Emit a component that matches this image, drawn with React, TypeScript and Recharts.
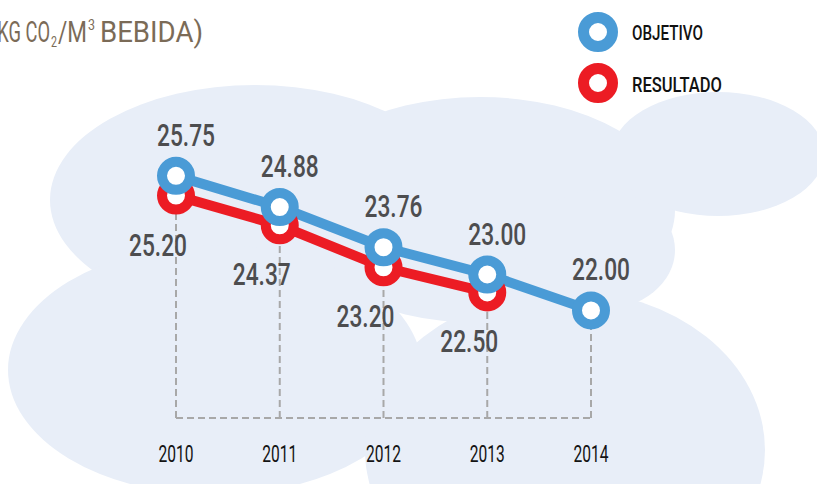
import React from 'react';
import { LineChart, Line, XAxis, YAxis, ReferenceLine, LabelList } from 'recharts';

// ---- data ----
const years = ['2010', '2011', '2012', '2013', '2014'];
const objetivo = [25.75, 24.88, 23.76, 23.0, 22.0];
const resultado: (number | null)[] = [25.2, 24.37, 23.2, 22.5, null];
const yDomain: [number, number] = [19, 27];

const seriesNames = { objetivo: 'OBJETIVO', resultado: 'RESULTADO' };
const colors = { objetivo: '#4A9BD6', resultado: '#EC1C24' };

const data = years.map((year, i) => ({
  year,
  objetivo: objetivo[i],
  resultado: resultado[i],
}));

const W = 817;
const H = 484;
const CLOUD = '#E8EEF8';
const FONT = 'Roboto, "Noto Sans", sans-serif';

const BlueLabel = (props: any) => {
  const { x, y, value } = props;
  if (value == null) return null;
  return (
    <text x={x + 10} y={y - 30} textAnchor="middle" fontFamily={FONT} fontWeight={500}
      fontSize={32} fill="#4D4D4F" textLength={58} lengthAdjust="spacingAndGlyphs">
      {Number(value).toFixed(2)}
    </text>
  );
};

const RedLabel = (props: any) => {
  const { x, y, value } = props;
  if (value == null) return null;
  return (
    <text x={x - 18} y={y + 60} textAnchor="middle" fontFamily={FONT} fontWeight={500}
      fontSize={32} fill="#4D4D4F" textLength={58} lengthAdjust="spacingAndGlyphs">
      {Number(value).toFixed(2)}
    </text>
  );
};

const YearTick = (props: any) => {
  const { x, y, payload } = props;
  return (
    <text x={x} y={y + 36} textAnchor="middle" fontFamily={FONT} fontSize={23}
      fill="#141414" textLength={35} lengthAdjust="spacingAndGlyphs">
      {payload.value}
    </text>
  );
};

const Background = () => (
  <svg width={W} height={H} style={{ position: 'absolute', left: 0, top: 0 }}>
    <g fill={CLOUD}>
      <ellipse cx={255} cy={200} rx={205} ry={115} />
      <ellipse cx={480} cy={210} rx={195} ry={113} />
      <ellipse cx={600} cy={250} rx={75} ry={60} />
      <ellipse cx={718} cy={154} rx={106} ry={62} />
      <ellipse cx={215} cy={370} rx={207} ry={125} />
      <ellipse cx={565} cy={450} rx={200} ry={160} />
    </g>
    {/* title */}
    <g fontFamily={FONT} fill="#7B6B57">
      <text x={-9} y={42} fontSize={30} textLength={59} lengthAdjust="spacingAndGlyphs">(KG CO</text>
      <text x={51} y={47} fontSize={15} textLength={6} lengthAdjust="spacingAndGlyphs">2</text>
      <text x={58} y={42} fontSize={30} textLength={29} lengthAdjust="spacingAndGlyphs">/M</text>
      <text x={88} y={30} fontSize={15} textLength={7} lengthAdjust="spacingAndGlyphs">3</text>
      <text x={100} y={42} fontSize={30} textLength={103} lengthAdjust="spacingAndGlyphs">BEBIDA)</text>
    </g>
    {/* legend */}
    {(['objetivo', 'resultado'] as const).map((k, i) => (
      <g key={k}>
        <circle cx={598} cy={32 + i * 51} r={14.5} fill="#fff" stroke={colors[k]} strokeWidth={11} />
        <text x={632} y={40 + i * 52} fontFamily={FONT} fontWeight={500} fontSize={21} fill="#111"
          textLength={k === 'objetivo' ? 71 : 90} lengthAdjust="spacingAndGlyphs">
          {seriesNames[k]}
        </text>
      </g>
    ))}
  </svg>
);

export default function App() {
  return (
    <div style={{ position: 'absolute', left: 0, top: 0, width: W, height: H, overflow: 'hidden', background: '#fff' }}>
      <Background />
      <div style={{ position: 'absolute', left: 0, top: 0 }}>
        <LineChart width={W} height={H} data={data}
          margin={{ top: 131, right: W - 591, bottom: 26, left: 176 }}>
          <XAxis dataKey="year" height={40} tickLine={false} tick={<YearTick />}
            axisLine={{ stroke: '#A8A8A8', strokeWidth: 2, strokeDasharray: '7 4' }} />
          <YAxis type="number" domain={yDomain} hide />
          {years.map((yr, i) => {
            const vals = [objetivo[i], resultado[i]].filter((v) => v != null) as number[];
            return (
              <ReferenceLine key={yr} segment={[{ x: yr, y: yDomain[0] }, { x: yr, y: Math.min(...vals) }]}
                stroke="#A8A8A8" strokeWidth={2} strokeDasharray="7 4" />
            );
          })}
          <Line type="linear" dataKey="resultado" name={seriesNames.resultado} stroke={colors.resultado}
            strokeWidth={10} isAnimationActive={false} activeDot={false}
            dot={{ r: 14, stroke: colors.resultado, strokeWidth: 10, fill: '#fff' }}>
            <LabelList dataKey="resultado" content={<RedLabel />} />
          </Line>
          <Line type="linear" dataKey="objetivo" name={seriesNames.objetivo} stroke={colors.objetivo}
            strokeWidth={10} isAnimationActive={false} activeDot={false}
            dot={{ r: 14, stroke: colors.objetivo, strokeWidth: 10, fill: '#fff' }}>
            <LabelList dataKey="objetivo" content={<BlueLabel />} />
          </Line>
        </LineChart>
      </div>
    </div>
  );
}
